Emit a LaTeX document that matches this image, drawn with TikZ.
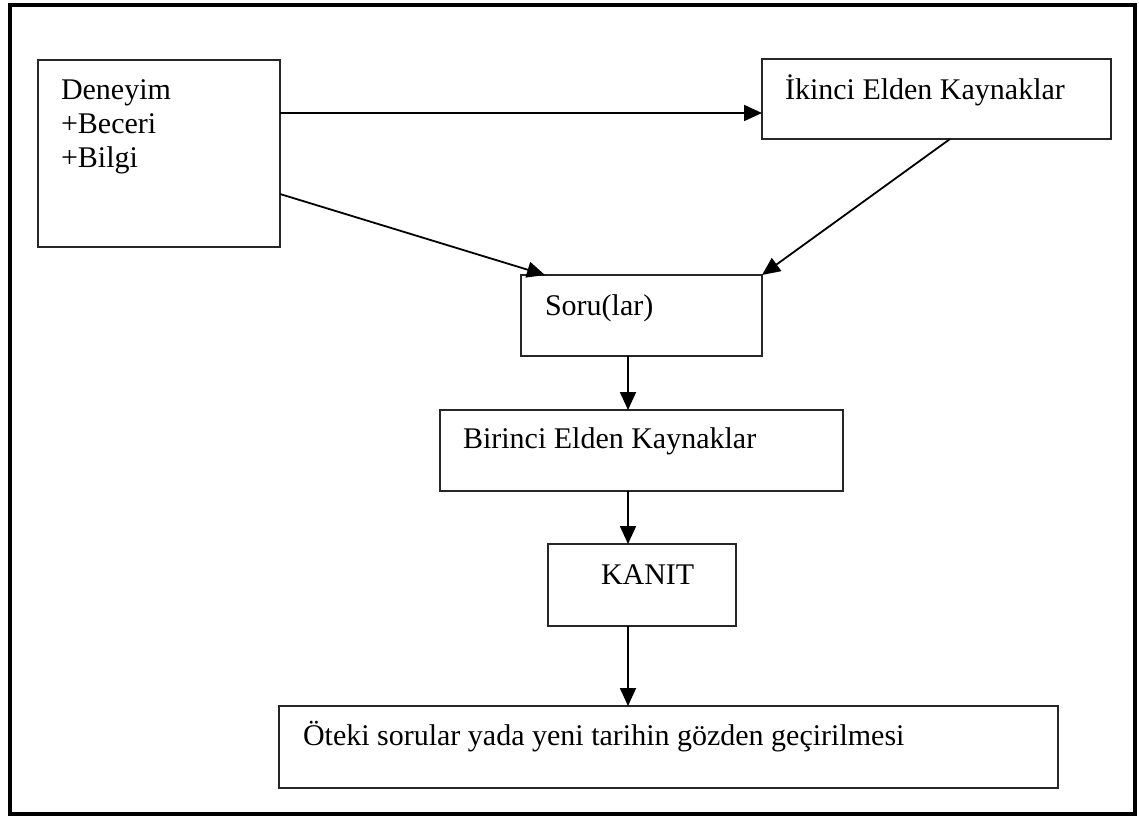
\documentclass[tikz,border=0pt]{standalone}
\usepackage{fontspec}
\setmainfont{Liberation Serif}
\usetikzlibrary{arrows.meta,calc}
\begin{document}
\begin{tikzpicture}[x=1pt,y=-1pt,
  box/.style={draw=black!85,line width=2pt,rectangle,anchor=north west,inner sep=0pt,outer sep=0pt},
  txt/.style={anchor=base west,inner sep=0pt,outer sep=0pt,font=\fontsize{30}{34}\selectfont},
  arr/.style={draw=black,line width=1.8pt,-{Triangle[length=18pt,width=16pt]}}]
\useasboundingbox (0,0) rectangle (1139,817);
\draw[line width=3.4pt,black] (10,5) rectangle (1135,814);
% boxes
\node[box,minimum width=242pt,minimum height=187pt] (exp) at (38,60) {};
\node[box,minimum width=349pt,minimum height=80pt] (sec) at (762,59) {};
\node[box,minimum width=241pt,minimum height=81pt] (soru) at (521,275) {};
\node[box,minimum width=403pt,minimum height=81pt] (bir) at (440,410) {};
\node[box,minimum width=188pt,minimum height=82pt] (kanit) at (548,544) {};
\node[box,minimum width=779pt,minimum height=82pt] (oteki) at (279,706) {};
% texts
\node[txt] (t1) at (61,99) {Deneyim};
\node[txt] (t2) at (61,133) {+Beceri};
\node[txt] (t3) at (61,167) {+Bilgi};
\node[txt] (tsec) at (785,99) {İkinci Elden Kaynaklar};
\node[txt] (tsoru) at (545,315) {Soru(lar)};
\node[txt] (tbir) at (463,448) {Birinci Elden Kaynaklar};
\node[txt] (tkanit) at (601,584) {KANIT};
\node[txt] (toteki) at (303,745) {Öteki sorular yada yeni tarihin gözden geçirilmesi};
% connectors
\coordinate (a1) at ([yshift=-14pt]sec.west);
\draw[arr] (a1 -| exp.east) -- (a1);
\coordinate (d1) at ([yshift=53pt]exp.south east);
\draw[arr] (d1) -- ([xshift=24pt]soru.north west);
\draw[arr] ([xshift=13.5pt]sec.south) -- (soru.north east);
\coordinate (ax) at (628,0);
\draw[arr] (soru.south -| ax) -- (bir.north -| ax);
\draw[arr] (bir.south -| ax) -- (kanit.north -| ax);
\draw[arr] (kanit.south -| ax) -- (oteki.north -| ax);
\end{tikzpicture}
\end{document}
